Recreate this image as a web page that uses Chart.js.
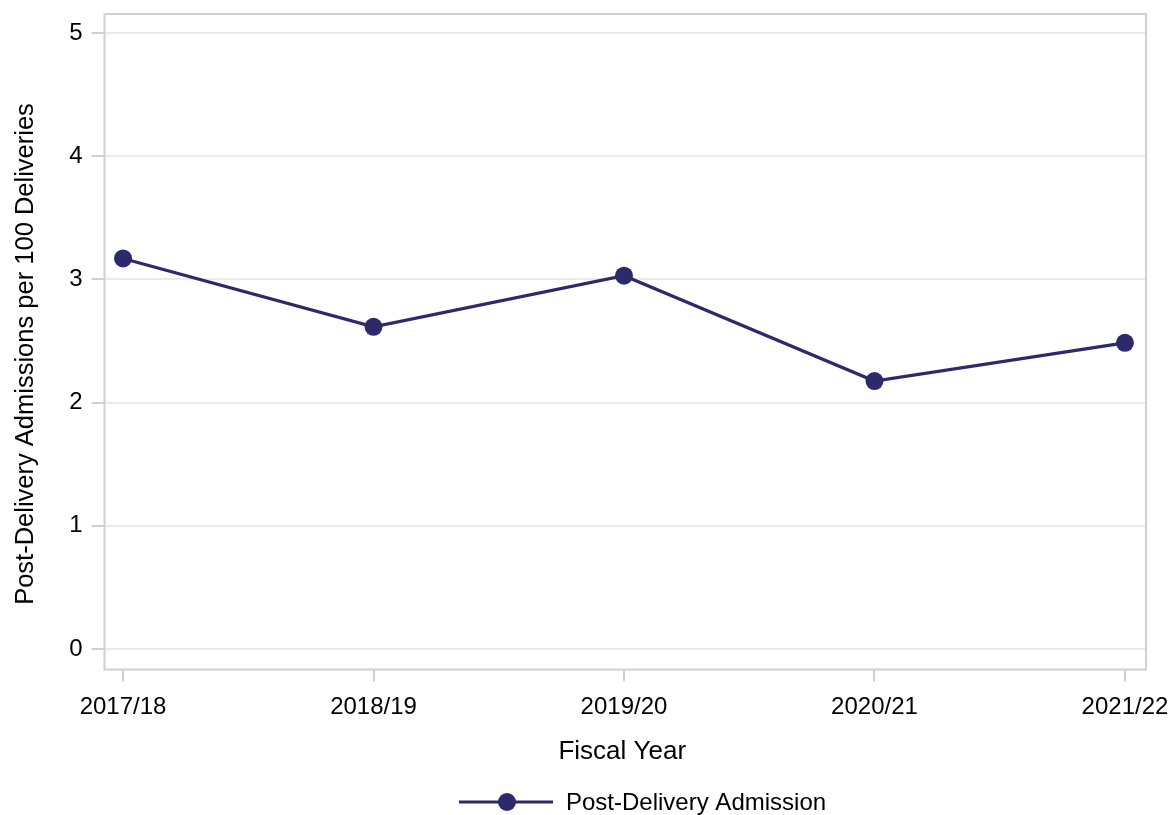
<!DOCTYPE html>
<html>
<head>
<meta charset="utf-8">
<script src="https://cdn.jsdelivr.net/npm/chart.js@4/dist/chart.umd.min.js"></script>
<style>
  html, body { margin: 0; padding: 0; background: #fff; }
  #wrap { width: 1169px; height: 815px; }
</style>
</head>
<body>
<div id="wrap"><canvas id="grafico" width="1169" height="815"></canvas></div>
<script>
// dados
const anos = ['2017/18', '2018/19', '2019/20', '2020/21', '2021/22'];
const taxas = [3.17, 2.615, 3.03, 2.175, 2.485];
const ticks_y = [0, 1, 2, 3, 4, 5];
const nome_serie = 'Post-Delivery Admission';
const titulo_x = 'Fiscal Year';
const titulo_y = 'Post-Delivery Admissions per 100 Deliveries';

const COR_LINHA = '#2c2a6b';
const COR_MOLDURA = '#d0d0d0';
const COR_GRADE = '#ebebeb';
const FONTE = '"Liberation Sans", Arial, sans-serif';

// moldura, marcas dos eixos, titulos e legenda
const extras = {
    id: 'extras',
    afterDraw(chart) {
        const ctx = chart.ctx;
        const a = chart.chartArea;
        const sx = chart.scales.x;
        const sy = chart.scales.y;
        ctx.save();
        ctx.strokeStyle = COR_MOLDURA;
        ctx.lineWidth = 2;
        ctx.strokeRect(a.left, a.top, a.right - a.left, a.bottom - a.top);
        ctx.beginPath();
        ticks_y.forEach(v => {
            const y = Math.round(sy.getPixelForValue(v));
            ctx.moveTo(a.left - 13, y);
            ctx.lineTo(a.left, y);
        });
        anos.forEach((_, i) => {
            const x = Math.round(sx.getPixelForValue(i));
            ctx.moveTo(x, a.bottom);
            ctx.lineTo(x, a.bottom + 12);
        });
        ctx.stroke();

        ctx.fillStyle = '#000';
        ctx.font = '26px ' + FONTE;
        ctx.textAlign = 'center';
        ctx.textBaseline = 'alphabetic';
        ctx.fillText(titulo_x, (a.left + a.right) / 2 - 3, 759);

        ctx.save();
        ctx.translate(33, 354);
        ctx.rotate(-Math.PI / 2);
        ctx.font = '25.5px ' + FONTE;
        ctx.fillText(titulo_y, 0, 0);
        ctx.restore();

        // legenda
        const ly = 802;
        ctx.strokeStyle = COR_LINHA;
        ctx.lineWidth = 3;
        ctx.beginPath();
        ctx.moveTo(459, ly);
        ctx.lineTo(553, ly);
        ctx.stroke();
        ctx.fillStyle = COR_LINHA;
        ctx.beginPath();
        ctx.arc(507, ly, 9, 0, Math.PI * 2);
        ctx.fill();
        ctx.fillStyle = '#000';
        ctx.font = '24px ' + FONTE;
        ctx.textAlign = 'left';
        ctx.textBaseline = 'middle';
        ctx.fillText(chart.data.datasets[0].label, 566, ly + 1);
        ctx.restore();
    }
};

const ctx = document.getElementById('grafico').getContext('2d');
new Chart(ctx, {
    type: 'line',
    data: {
        datasets: [{
            label: nome_serie,
            data: taxas.map((v, i) => ({ x: i, y: v })),
            borderColor: COR_LINHA,
            backgroundColor: COR_LINHA,
            borderWidth: 3.2,
            pointRadius: 9,
            pointHoverRadius: 9,
            pointBorderWidth: 0,
            tension: 0
        }]
    },
    options: {
        responsive: false,
        animation: false,
        events: [],
        layout: { padding: { left: 0, top: 14, right: 23, bottom: 0 } },
        plugins: {
            legend: { display: false },
            tooltip: { enabled: false }
        },
        scales: {
            x: {
                type: 'linear',
                min: -0.074,
                max: 4.084,
                afterFit: s => {
                    s.height = 815 - 669.5;
                    s.paddingLeft = 0;
                    s.paddingRight = 0;
                },
                afterBuildTicks: s => { s.ticks = anos.map((_, i) => ({ value: i })); },
                grid: { display: false, drawTicks: false },
                border: { display: false },
                ticks: {
                    autoSkip: false,
                    maxRotation: 0,
                    padding: 23,
                    color: '#000',
                    font: { family: FONTE, size: 24 },
                    callback: v => anos[v]
                }
            },
            y: {
                min: -0.166,
                max: 5.154,
                afterFit: s => {
                    s.width = 104.5;
                    s.paddingTop = 0;
                    s.paddingBottom = 0;
                },
                afterBuildTicks: s => { s.ticks = ticks_y.map(v => ({ value: v })); },
                grid: { color: COR_GRADE, lineWidth: 2, drawTicks: false },
                border: { display: false },
                ticks: {
                    padding: 22,
                    color: '#000',
                    font: { family: FONTE, size: 24 }
                }
            }
        }
    },
    plugins: [extras]
});
</script>
</body>
</html>
